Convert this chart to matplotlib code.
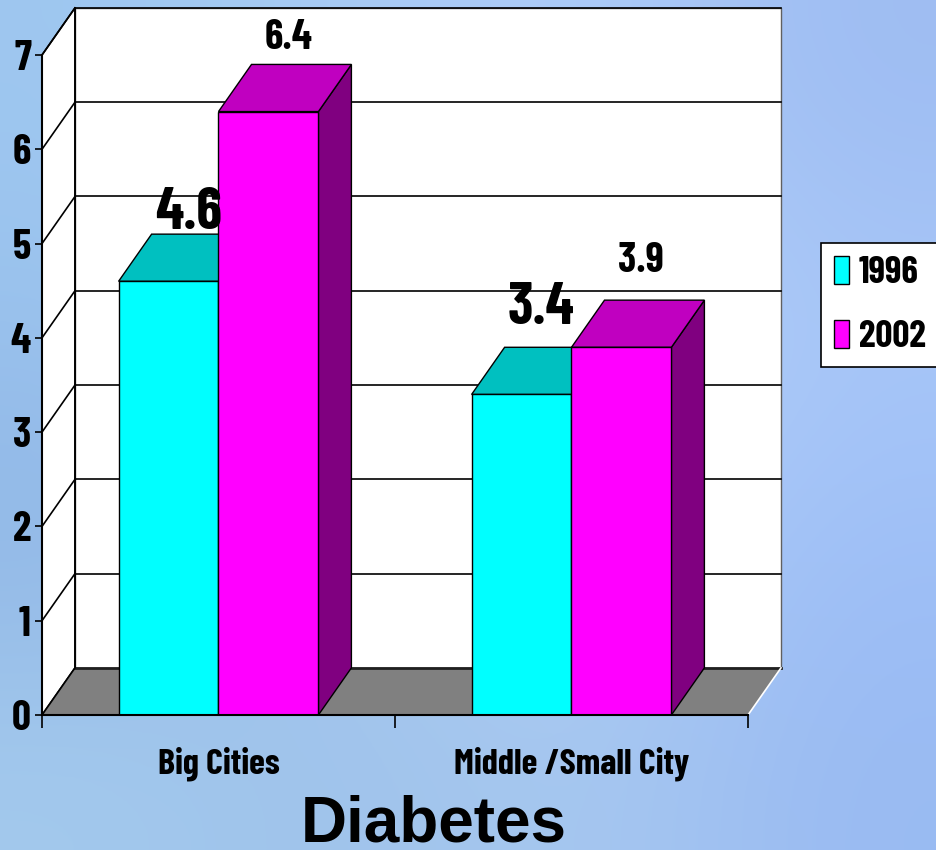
import numpy as np
import matplotlib
matplotlib.use("Agg")
import matplotlib.pyplot as plt
from matplotlib import font_manager
from matplotlib.patches import Polygon, Patch

# chart data
categories = ["Big Cities", "Middle /Small City"]
years = ["1996", "2002"]
vals_1996 = [4.6, 3.4]
vals_2002 = [6.4, 3.9]
yticks = [0, 1, 2, 3, 4, 5, 6, 7]

# pick a condensed face that has a real bold
bold_faces = {f.name for f in font_manager.fontManager.ttflist
              if isinstance(f.weight, int) and f.weight >= 700}
wanted = ["Liberation Sans Narrow", "Arial Narrow", "Barlow Condensed", "Roboto Condensed",
          "PT Sans Narrow", "Fira Sans Condensed", "IBM Plex Sans Condensed"]
narrow = [n for n in wanted if n in bold_faces][:1] + ["DejaVu Sans"]

front_cols = ["#00FFFF", "#FF00FF"]
top_cols = ["#00C0C0", "#C000C0"]
side_cols = ["#008080", "#800080"]
label_sizes = [[42, 30], [42, 30]]       # per category, per year
label_lift = [[4, 11], [17, 20]]         # points from bar top to baseline

W = 0.283              # bar width in category units
DX, DY = 0.0935, 0.5   # depth offset of the 3d box

fig = plt.figure(figsize=(9.36, 8.5), dpi=100)

# light blue backdrop
bg = fig.add_axes([0, 0, 1, 1])
grid = np.array([
    [[0.62, 0.78, 0.94], [0.66, 0.80, 0.96], [0.68, 0.80, 0.97], [0.62, 0.74, 0.95]],
    [[0.60, 0.76, 0.93], [0.70, 0.82, 0.96], [0.72, 0.83, 0.98], [0.66, 0.78, 0.97]],
    [[0.56, 0.71, 0.90], [0.66, 0.79, 0.94], [0.70, 0.81, 0.97], [0.62, 0.75, 0.97]],
    [[0.64, 0.79, 0.93], [0.62, 0.76, 0.92], [0.66, 0.79, 0.94], [0.60, 0.73, 0.95]],
])
bg.imshow(grid, aspect="auto", interpolation="bicubic", extent=[0, 1, 0, 1])
bg.set_axis_off()

ax = fig.add_axes([42 / 936, 135 / 850, 706 / 936, 660 / 850])
ax.set_xlim(-0.5, 1.5)
ax.set_ylim(0, 7)
ax.patch.set_visible(False)

x0, x1 = -0.5, 1.5
ytop = yticks[-1]

# back wall and left wall
ax.add_patch(Polygon([(x0 + DX, DY), (x1 + DX, DY), (x1 + DX, ytop + DY), (x0 + DX, ytop + DY)],
                     closed=True, facecolor="white", edgecolor="#606060", lw=1, clip_on=False, zorder=1))
ax.add_patch(Polygon([(x0, 0), (x0 + DX, DY), (x0 + DX, ytop + DY), (x0, ytop)],
                     closed=True, facecolor="white", edgecolor="black", lw=1.2, clip_on=False, zorder=1))

# gridlines on both walls
for v in yticks[1:]:
    ax.plot([x0 + DX, x1 + DX], [v + DY, v + DY], color="black", lw=1.2, clip_on=False, zorder=1.1)
    ax.plot([x0, x0 + DX], [v, v + DY], color="black", lw=1.2, clip_on=False, zorder=1.1)
ax.plot([x0 + DX, x0 + DX], [DY, ytop + DY], color="black", lw=1.2, clip_on=False, zorder=1.1)

# floor
ax.add_patch(Polygon([(x0, 0), (x1, 0), (x1 + DX, DY), (x0 + DX, DY)],
                     closed=True, facecolor="#808080", edgecolor="none", clip_on=False, zorder=1.2))
ax.plot([x0 + DX, x1 + DX], [DY, DY], color="#202020", lw=2, clip_on=False, zorder=1.3)
ax.plot([x0, x0 + DX], [0, DY], color="black", lw=1.2, clip_on=False, zorder=1.3)
ax.plot([x1, x1 + DX], [0, DY], color="white", lw=1.2, clip_on=False, zorder=1.3)


def box(xa, xb, v, i):
    ax.add_patch(Polygon([(xb, 0), (xb + DX, DY), (xb + DX, v + DY), (xb, v)],
                         closed=True, facecolor=side_cols[i], edgecolor="black", lw=1, zorder=2))
    ax.add_patch(Polygon([(xa, v), (xb, v), (xb + DX, v + DY), (xa + DX, v + DY)],
                         closed=True, facecolor=top_cols[i], edgecolor="black", lw=1,
                         clip_on=False, zorder=2))
    ax.add_patch(Polygon([(xa, 0), (xb, 0), (xb, v), (xa, v)],
                         closed=True, facecolor=front_cols[i], edgecolor="black", lw=1, zorder=2))


series = [vals_1996, vals_2002]
for c in range(len(categories)):
    for i, vals in enumerate(series):
        xa = c - W + i * W
        v = vals[c]
        box(xa, xa + W, v, i)
        ax.annotate(f"{v:.1f}", xy=(xa + W / 2 + DX * 0.6, v + DY),
                    xytext=(0, label_lift[c][i]), textcoords="offset points",
                    ha="center", va="baseline", fontsize=label_sizes[c][i],
                    fontweight="bold", family=narrow, annotation_clip=False, zorder=3)

# axes lines and ticks
for s in ["top", "right"]:
    ax.spines[s].set_visible(False)
for s in ["left", "bottom"]:
    ax.spines[s].set_linewidth(1.5)
    ax.spines[s].set_zorder(2.5)

ax.set_yticks(yticks)
ax.set_yticklabels([str(t) for t in yticks], fontsize=30, fontweight="bold", family=narrow)
ax.tick_params(axis="y", length=5, width=1.2, pad=3)

ax.set_xticks([0, 1])
ax.set_xticklabels(categories, fontsize=26, fontweight="bold", family=narrow)
ax.set_xticks([-0.5, 0.5, 1.5], minor=True)
ax.tick_params(axis="x", which="major", length=0, pad=23)
ax.tick_params(axis="x", which="minor", length=9, width=1.2)

fig.text(434 / 936, 1 - 841 / 850, "Diabetes", ha="center", va="baseline",
         fontsize=46, fontweight="bold", family=["Liberation Sans", "DejaVu Sans"])

handles = [Patch(facecolor=front_cols[i], edgecolor="black", lw=1) for i in range(2)]
leg = fig.legend(handles, years, loc="center", bbox_to_anchor=(880 / 936, 1 - 305 / 850),
                 prop={"family": narrow, "weight": "bold", "size": 27},
                 handlelength=0.4, handleheight=0.75, handletextpad=0.25, labelspacing=0.8,
                 borderpad=0.35, borderaxespad=0, fancybox=False, framealpha=1, edgecolor="black")
leg.get_frame().set_linewidth(1.2)

fig.savefig("out.png", dpi=100)
